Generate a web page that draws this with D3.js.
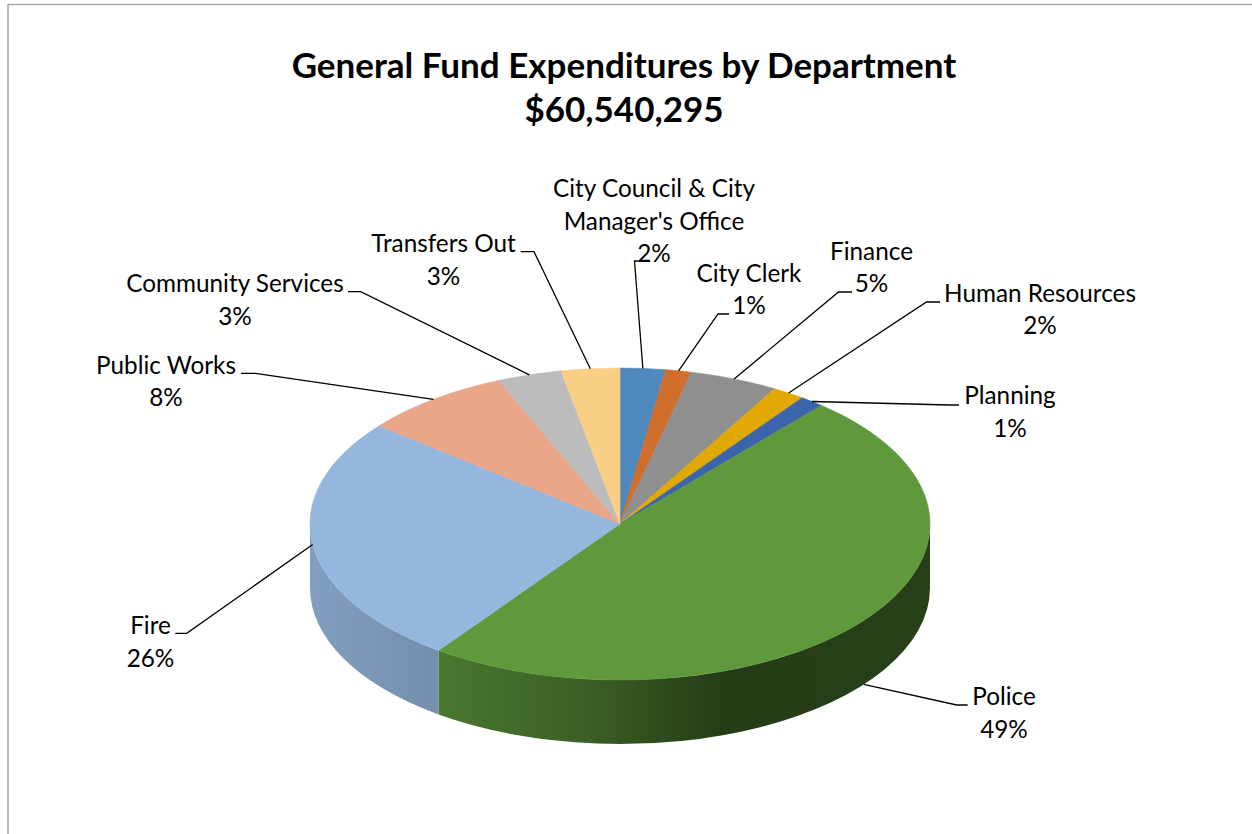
<!DOCTYPE html>
<html>
<head>
<meta charset="utf-8">
<script src="https://cdn.jsdelivr.net/npm/d3@7"></script>
<style>
  html, body { margin: 0; padding: 0; background: #ffffff; }
  svg { display: block; }
  text { font-family: Lato, "Open Sans", sans-serif; fill: #000; }
</style>
</head>
<body>
<svg id="chart" width="1252" height="834"></svg>
<script>
// General Fund expenditures by department, in millions of dollars (total $60,540,295)
const departments = [
  "City Council & City Manager's Office",
  "City Clerk",
  "Finance",
  "Human Resources",
  "Planning",
  "Police",
  "Fire",
  "Public Works",
  "Community Services",
  "Transfers Out"
];
const amounts = [1.423, 0.817, 2.785, 1.029, 0.757, 29.483, 15.680, 4.692, 2.028, 1.846];
const sliceColors = [
  "#4f88bb", "#d06e2b", "#8f8f8f", "#e0a800", "#3b64ad",
  "#5f993c", "#95b6dd", "#eaa689", "#bcbcbc", "#f9cf86"
];
const titleLines = ["General Fund Expenditures by Department", "$60,540,295"];

// Label placement: text lines, centre x, first baseline, leader elbow and end,
// and whether the leader attaches to the lower rim of the pie.
const labelLayout = [
  { lines: ["City Council & City", "Manager's Office"], x: 654, y: 197, elbow: [634.5, 261], end: [638.5, 261], low: false },
  { lines: ["City Clerk"], x: 749, y: 281.5, elbow: [718, 314], end: [729, 314], low: false },
  { lines: ["Finance"], x: 871.5, y: 259.5, elbow: [838.5, 292], end: [852, 292], low: false },
  { lines: ["Human Resources"], x: 1040, y: 301.5, elbow: [926.5, 302], end: [940, 302], low: false },
  { lines: ["Planning"], x: 1010, y: 404, elbow: [950, 405], end: [959, 405], low: false },
  { lines: ["Police"], x: 1004, y: 705, elbow: [956.7, 705], end: [967.7, 705], low: true },
  { lines: ["Fire"], x: 150.5, y: 634, elbow: [186.7, 633.3], end: [175.3, 633.3], low: false },
  { lines: ["Public Works"], x: 166, y: 373.5, elbow: [255.4, 373.3], end: [241, 373.3], low: false },
  { lines: ["Community Services"], x: 235, y: 292, elbow: [360.7, 291.7], end: [348, 291.7], low: false },
  { lines: ["Transfers Out"], x: 443.5, y: 252, elbow: [534, 251.7], end: [520.7, 251.7], low: false }
];

const svg = d3.select("#chart");

// chart frame
svg.append("path")
  .attr("d", "M8,834 L8,4.5 L1252,4.5")
  .attr("fill", "none")
  .attr("stroke", "#a6a6a6")
  .attr("stroke-width", 1.5);

// title
svg.append("text")
  .attr("x", 624)
  .attr("text-anchor", "middle")
  .attr("font-weight", "bold")
  .attr("font-size", 35)
  .selectAll("tspan")
  .data(titleLines)
  .join("tspan")
  .attr("x", 624)
  .attr("y", (d, i) => 78 + i * 44)
  .text(d => d);

// pie geometry (tilted disc seen from above)
const cx = 620, cy = 524, rx = 310, ry = 156, depth = 64;
const total = d3.sum(amounts);
const pct = d3.format(".0%");

const pie = d3.pie().sort(null).value(d => d.value).startAngle(0).endAngle(2 * Math.PI);
const arcs = pie(amounts.map((v, i) => ({ name: departments[i], value: v, color: sliceColors[i], layout: labelLayout[i] })));

// angle is measured clockwise from 12 o'clock, as in d3.pie
const proj = (a, z = 0) => [cx + rx * Math.sin(a), cy - ry * Math.cos(a) + z];
const pt = p => p[0].toFixed(2) + "," + p[1].toFixed(2);

// shading of the outer wall: lit from the left, darkest on the right
const defs = svg.append("defs");
const shade = [[0, 0.87], [0.21, 0.78], [0.445, 0.62], [0.67, 0.39], [0.87, 0.41], [1, 0.42]];
arcs.forEach((d, i) => {
  const base = d3.rgb(d.data.color);
  const g = defs.append("linearGradient")
    .attr("id", "wall" + i)
    .attr("gradientUnits", "userSpaceOnUse")
    .attr("x1", cx - rx).attr("x2", cx + rx)
    .attr("y1", 0).attr("y2", 0);
  shade.forEach(([o, f]) => {
    g.append("stop")
      .attr("offset", o)
      .attr("stop-color", d3.rgb(base.r * f, base.g * f, base.b * f).formatHex());
  });
});

// outer walls: only the front half (between 3 and 9 o'clock) is visible
const walls = arcs.map((d, i) => {
  const s = Math.max(d.startAngle, Math.PI / 2);
  const e = Math.min(d.endAngle, 3 * Math.PI / 2);
  if (s >= e) return null;
  return { i, d: "M" + pt(proj(s)) +
    " A" + rx + "," + ry + " 0 0 1 " + pt(proj(e)) +
    " L" + pt(proj(e, depth)) +
    " A" + rx + "," + ry + " 0 0 0 " + pt(proj(s, depth)) + " Z" };
}).filter(Boolean);

svg.append("g")
  .selectAll("path")
  .data(walls)
  .join("path")
  .attr("d", w => w.d)
  .attr("fill", w => "url(#wall" + w.i + ")");

// top faces
svg.append("g")
  .selectAll("path")
  .data(arcs)
  .join("path")
  .attr("d", d => {
    const large = d.endAngle - d.startAngle > Math.PI ? 1 : 0;
    return "M" + cx + "," + cy + " L" + pt(proj(d.startAngle)) +
      " A" + rx + "," + ry + " 0 " + large + " 1 " + pt(proj(d.endAngle)) + " Z";
  })
  .attr("fill", d => d.data.color)
  .attr("stroke", d => d.data.color)
  .attr("stroke-width", 0.6)
  .attr("stroke-linejoin", "round");

// leader lines
svg.append("g")
  .selectAll("polyline")
  .data(arcs)
  .join("polyline")
  .attr("points", d => {
    const mid = (d.startAngle + d.endAngle) / 2;
    const L = d.data.layout;
    const start = proj(mid, L.low ? depth : 0);
    return [start, L.elbow, L.end].map(pt).join(" ");
  })
  .attr("fill", "none")
  .attr("stroke", "#000")
  .attr("stroke-width", 1.3);

// data labels: name and share of total
const labels = svg.append("g")
  .attr("font-size", 24.3)
  .attr("text-anchor", "middle")
  .selectAll("text")
  .data(arcs)
  .join("text");

labels.selectAll("tspan")
  .data(d => d.data.layout.lines.concat([pct(d.data.value / total)]).map((t, k) => ({ t, k, L: d.data.layout })))
  .join("tspan")
  .attr("x", e => e.L.x)
  .attr("y", e => e.L.y + e.k * 32.5)
  .text(e => e.t);
</script>
</body>
</html>
